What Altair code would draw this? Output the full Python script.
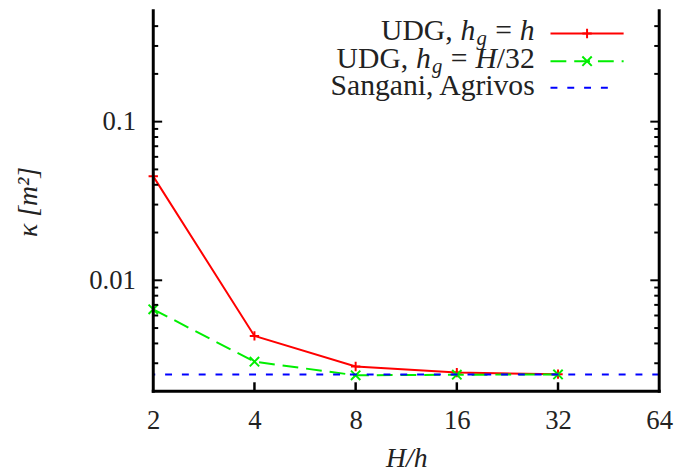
import altair as alt
import pandas as pd

# ---------------- data ----------------
x_vals = [2, 4, 8, 16, 32]
udg_h = [0.0452, 0.00446, 0.00286, 0.00262, 0.00256]
udg_h32 = [0.00656, 0.00307, 0.00252, 0.00254, 0.00255]
sangani = [0.00255]
x_tick_labels = [2, 4, 8, 16, 32, 64]
x_inner_ticks = [4, 8, 16, 32]
y_major = [0.01, 0.1]
y_minor = [0.003, 0.004, 0.005, 0.006, 0.007, 0.008, 0.009,
           0.02, 0.03, 0.04, 0.05, 0.06, 0.07, 0.08, 0.09,
           0.2, 0.3, 0.4]

# ---------------- layout ----------------
W, H = 512, 385
FONT = "Liberation Serif"
TXT = "#222222"
RED, GREEN, BLUE = "#ff0000", "#00ee00", "#0000ff"
PLUS = "M-1,0L1,0M0,-1L0,1"
CROSS = "M-1,-1L1,1M-1,1L1,-1"

xs = alt.Scale(type="log", base=2, domain=[2, 64], nice=False)
ys = alt.Scale(type="log", domain=[0.002, 0.5], nice=False)

x_axis = alt.Axis(values=x_tick_labels, format="d", ticks=False, domain=False, grid=False,
                  labelFont=FONT, labelFontSize=27, labelColor=TXT, labelPadding=17,
                  labelFlush=False, labelOverlap=False,
                  title="H/h", titleFont=FONT, titleFontSize=28, titleFontStyle="italic",
                  titleFontWeight="normal", titleColor=TXT, titlePadding=11)
y_axis = alt.Axis(values=y_major, labelExpr="datum.value >= 0.05 ? '0.1' : '0.01'",
                  ticks=False, domain=False, grid=False,
                  labelFont=FONT, labelFontSize=27, labelColor=TXT, labelPadding=18,
                  labelFlush=False, labelOverlap=False,
                  title="κ [m²]", titleFont=FONT, titleFontSize=28, titleFontStyle="italic",
                  titleFontWeight="normal", titleColor=TXT, titleAngle=270,
                  titleX=-118, titleY=193, titleAlign="center", titleBaseline="alphabetic")

X = lambda f: alt.X(f, scale=xs, axis=x_axis)
Y = lambda f: alt.Y(f, scale=ys, axis=y_axis)

one = pd.DataFrame({"d": [0]})

df_h = pd.DataFrame({"x": x_vals, "y": udg_h})
df_h32 = pd.DataFrame({"x": x_vals, "y": udg_h32})
df_s = pd.DataFrame({"y": sangani})

red_line = alt.Chart(df_h).mark_line(color=RED, strokeWidth=2).encode(x=X("x:Q"), y=Y("y:Q"))
red_pts = alt.Chart(df_h).mark_point(shape=PLUS, size=90, color=RED, strokeWidth=2,
                                     filled=False, opacity=1).encode(x=X("x:Q"), y=Y("y:Q"))
green_line = alt.Chart(df_h32).mark_line(color=GREEN, strokeWidth=2, strokeDash=[16, 8]).encode(
    x=X("x:Q"), y=Y("y:Q"))
green_pts = alt.Chart(df_h32).mark_point(shape=CROSS, size=90, color=GREEN, strokeWidth=2,
                                         filled=False, opacity=1).encode(x=X("x:Q"), y=Y("y:Q"))
blue_rule = alt.Chart(df_s).mark_rule(color=BLUE, strokeWidth=2, strokeDash=[7, 10]).encode(
    y=Y("y:Q"))


def yticks(vals, x0, x1):
    return alt.Chart(pd.DataFrame({"v": vals})).mark_rule(color="black", strokeWidth=2).encode(
        y=Y("v:Q"), x=alt.value(x0), x2=alt.value(x1))


def xticks(vals, ln):
    return alt.Chart(pd.DataFrame({"v": vals})).mark_rule(color="black", strokeWidth=2.5).encode(
        x=X("v:Q"), y=alt.value(H), y2=alt.value(H - ln))


tick_layers = [
    yticks(y_major, 0, 9), yticks(y_minor, 0, 5),
    yticks(y_major, W, W - 9), yticks(y_minor, W, W - 5),
    xticks(x_inner_ticks, 9),
]


def border(**enc):
    return alt.Chart(one).mark_rule(color="black", strokeWidth=3,
                                    strokeCap="square").encode(**enc)


borders = [
    border(x=alt.value(0), y=alt.value(0), y2=alt.value(H)),
    border(x=alt.value(W), y=alt.value(0), y2=alt.value(H)),
    border(x=alt.value(0), x2=alt.value(W), y=alt.value(H)),
]

LF = 30      # legend font size
SUB = 21     # subscript font size


def txt(s, x, y, align="left", size=LF, style="normal"):
    return alt.Chart(one).mark_text(text=s, align=align, baseline="alphabetic", font=FONT,
                                    fontSize=size, fontStyle=style, color=TXT).encode(
        x=alt.value(x - 155), y=alt.value(y - 8))


def key_line(color, y, x0, x1, dash=None):
    kw = dict(color=color, strokeWidth=2)
    if dash:
        kw["strokeDash"] = dash
    return alt.Chart(one).mark_rule(**kw).encode(
        x=alt.value(x0 - 155), x2=alt.value(x1 - 155), y=alt.value(y - 8))


def key_pt(shape, color, y, x):
    return alt.Chart(one).mark_point(shape=shape, size=90, color=color, strokeWidth=2,
                                     filled=False, opacity=1).encode(
        x=alt.value(x - 155), y=alt.value(y - 8))


legend = [
    # line 1: UDG, h_g = h
    txt("UDG,", 458, 38, align="right"),
    txt("h", 466, 38, style="italic"),
    txt("g", 482, 43, size=SUB, style="italic"),
    txt("=", 501, 38),
    txt("h", 526, 38, style="italic"),
    # line 2: UDG, h_g = H/32
    txt("UDG,", 413, 66, align="right"),
    txt("h", 421, 66, style="italic"),
    txt("g", 437, 71, size=SUB, style="italic"),
    txt("=", 456, 66),
    txt("H", 481, 66, style="italic"),
    txt("/32", 541, 66, align="right"),
    # line 3
    txt("Sangani, Agrivos", 541, 93, align="right"),
    # key samples
    key_line(RED, 31, 557, 631),
    key_pt(PLUS, RED, 31, 594),
    key_line(GREEN, 59, 557, 631, [16, 8]),
    key_pt(CROSS, GREEN, 59, 594),
    key_line(BLUE, 86, 557, 624, [7, 10]),
]

chart = alt.layer(
    red_line, red_pts, green_line, green_pts, blue_rule,
    *tick_layers, *borders, *legend
).properties(
    width=W, height=H,
    autosize=alt.AutoSizeParams(type="none"),
    padding={"left": 147, "top": 0, "right": 17, "bottom": 80},
    background="white",
).configure_view(stroke=None)

chart.save("out.html", embed_options={"renderer": "svg", "actions": False})
